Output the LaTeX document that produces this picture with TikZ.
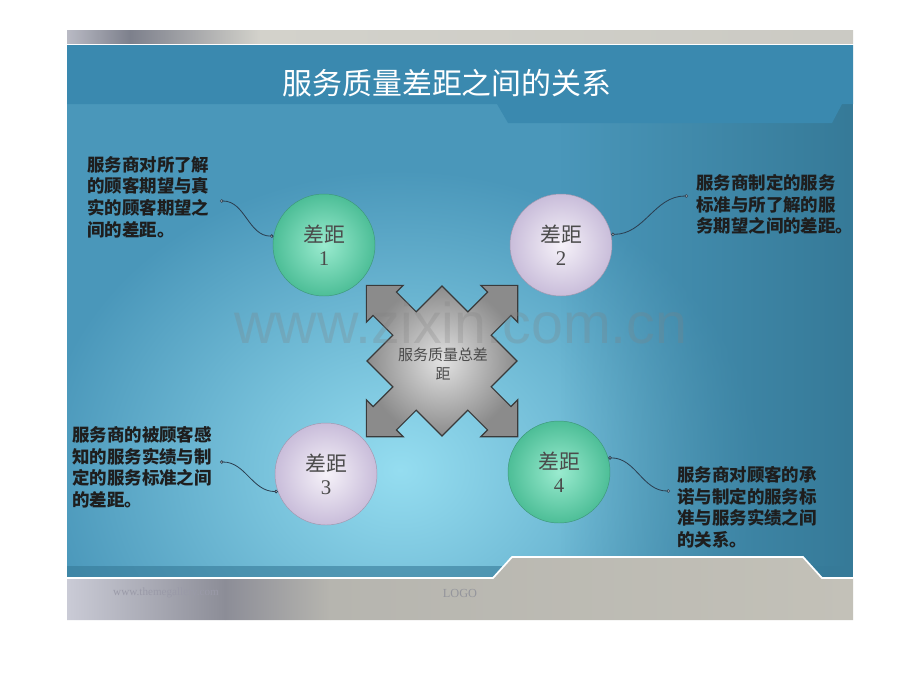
\documentclass[tikz,border=0pt]{standalone}
\usepackage{fontspec}
\setmainfont{Liberation Serif}
\setsansfont{Liberation Sans}
\newfontfamily\cjk{Noto Sans CJK SC}
\usetikzlibrary{arrows.meta,fadings}

\definecolor{stripleft}{HTML}{B9BAC4}
\definecolor{stripdark}{HTML}{7D808C}
\definecolor{striplight}{HTML}{D3D2CB}
\definecolor{bodybase}{HTML}{4A97BA}
\definecolor{bodylight}{HTML}{95DDF0}
\definecolor{bodydark}{HTML}{367A98}
\definecolor{bandblue}{HTML}{3A89AF}
\definecolor{footleft}{HTML}{CACBD6}
\definecolor{footdark}{HTML}{8C8D97}
\definecolor{footmid}{HTML}{B6B5AF}
\definecolor{footright}{HTML}{C3C1B8}
\definecolor{greenlight}{HTML}{9AEBCF}
\definecolor{greendark}{HTML}{4DBE97}
\definecolor{lilaclight}{HTML}{F6F2F9}
\definecolor{lilacdark}{HTML}{C9BDDA}
\definecolor{gaptext}{HTML}{4B4B4B}
\definecolor{notetext}{HTML}{1E1E1E}
\definecolor{linkcol}{HTML}{2B3E50}
\definecolor{crossedge}{HTML}{3A3A3A}
\definecolor{crosslight}{HTML}{E2E2E2}
\definecolor{crossdark}{HTML}{8B8B8B}
\definecolor{footink}{HTML}{9A9AA8}

\tikzset{
  gapball/.style={circle, minimum size=3.06cm, inner sep=0pt, align=center, text=gaptext,
    font=\cjk\fontsize{17.8pt}{19.6pt}\selectfont, line width=0.4pt},
  gapgreen/.style={gapball, inner color=greenlight, outer color=greendark, draw=greendark!80!black},
  gaplilac/.style={gapball, inner color=lilaclight, outer color=lilacdark, draw=lilacdark!80!black},
  note/.style={anchor=north west, align=left, inner sep=0pt, text=notetext,
    font=\cjk\bfseries\fontsize{14.9pt}{18.5pt}\selectfont},
  link/.style={draw=linkcol, line width=0.7pt,
    {Circle[length=3pt,fill=white]}-{Circle[length=3pt,fill=white]}},
  foottext/.style={inner sep=0pt, font=\rmfamily\fontsize{9.5pt}{11pt}\selectfont}
}

\begin{document}
\begin{tikzpicture}[x=0.03cm, y=-0.03cm]
\useasboundingbox (0,0) rectangle (920,690);
\fill[white] (0,0) rectangle (920,690);

% top strip
\shade[left color=stripleft, right color=stripdark] (67,30) rectangle (130,43);
\shade[left color=stripdark, right color=striplight] (130,30) rectangle (260,43);
\shade[left color=striplight, right color=striplight!90!gray] (260,30) rectangle (853,43);

% body
\begin{scope}
\clip (67,45) rectangle (853,578);
\fill[bodybase] (67,45) rectangle (853,578);
\shade[inner color=bodylight, outer color=bodybase] (400,470) ellipse (360 and 300);
\fill[bodydark, path fading=west] (560,45) rectangle (853,578);
\fill[bodydark, opacity=0.6] (67,566) rectangle (853,578);
\end{scope}
\fill[bandblue] (67,45) -- (853,45) -- (853,104) -- (842,104) -- (832,123)
  -- (508,123) -- (497,104) -- (67,104) -- cycle;
\node[text=white, font=\cjk\fontsize{25.5pt}{28pt}\selectfont] (title) at (447,83) {服务质量差距之间的关系};

% footer
\begin{scope}
\clip (67,578) -- (493,578) -- (512,557) -- (803,557) -- (822,578) -- (853,578)
  -- (853,620) -- (67,620) -- cycle;
\shade[left color=footleft, right color=footdark] (67,550) rectangle (225,620);
\shade[left color=footdark, right color=footmid] (225,550) rectangle (330,620);
\shade[left color=footmid, right color=footright] (330,550) rectangle (853,620);
\end{scope}
\draw[white, line width=1.5pt] (67,578) -- (493,578) -- (512,557) -- (803,557) -- (822,578) -- (853,578);
\node[foottext, text=footink, anchor=west] (site) at (113,593) {www.themegallery.com};
\node[foottext, text=footdark!80!footmid, font=\rmfamily\fontsize{10.5pt}{12pt}\selectfont] (logo) at (460,593) {LOGO};

% gaps
\node[gapgreen] (g1) at (324,245) {差距\\{\rmfamily 1}};
\node[gaplilac] (g2) at (561,245) {差距\\{\rmfamily 2}};
\node[gaplilac] (g3) at (326,474) {差距\\{\rmfamily 3}};
\node[gapgreen] (g4) at (559,472) {差距\\{\rmfamily 4}};

% total gap
\begin{scope}[shift={(442,361)}, rotate=45]
\shade[inner color=crosslight, outer color=crossdark, draw=crossedge, line width=1pt]
  (107,0) -- (81,26) -- (81,16.5) -- (53,16.5) -- (53,53) -- (16.5,53) -- (16.5,81) -- (26,81)
  -- (0,107) -- (-26,81) -- (-16.5,81) -- (-16.5,53) -- (-53,53) -- (-53,16.5) -- (-81,16.5) -- (-81,26)
  -- (-107,0) -- (-81,-26) -- (-81,-16.5) -- (-53,-16.5) -- (-53,-53) -- (-16.5,-53) -- (-16.5,-81) -- (-26,-81)
  -- (0,-107) -- (26,-81) -- (16.5,-81) -- (16.5,-53) -- (53,-53) -- (53,-16.5) -- (81,-16.5) -- (81,-26) -- cycle;
\end{scope}
\node[align=center, inner sep=0pt, text=gaptext, font=\cjk\fontsize{12.8pt}{17pt}\selectfont] (total) at (443,364) {服务质量总差\\距};

% notes
\node[note] (t1) at (87,156) {服务商对所了解\\的顾客期望与真\\实的顾客期望之\\间的差距。};
\node[note] (t2) at (696,174) {服务商制定的服务\\标准与所了解的服\\务期望之间的差距。};
\node[note] (t3) at (72,426) {服务商的被顾客感\\知的服务实绩与制\\定的服务标准之间\\的差距。};
\node[note] (t4) at (677,466) {服务商对顾客的承\\诺与制定的服务标\\准与服务实绩之间\\的关系。};

\coordinate (e1) at (220,201);
\coordinate (e2) at (688,196);
\coordinate (e3) at (220,462);
\coordinate (e4) at (670,491);
\draw[link] (e1) to[out=0, in=180] (g1.170);
\draw[link] (g2.12) to[out=0, in=180] (e2);
\draw[link] (e3) to[out=0, in=180] (g3.200);
\draw[link] (g4.16) to[out=0, in=180] (e4);

% watermark
\node[anchor=base, inner sep=0pt, text=gray, opacity=0.26, font=\sffamily\fontsize{49pt}{49pt}\selectfont] (mark) at (461,343) {www.zixin.com.cn};
\end{tikzpicture}
\end{document}
